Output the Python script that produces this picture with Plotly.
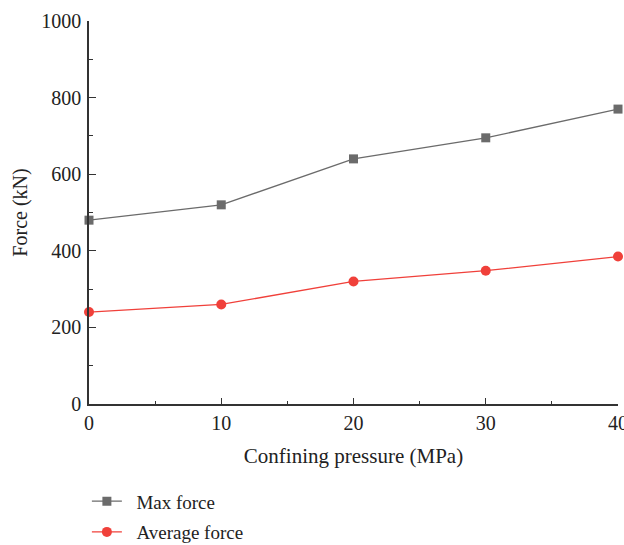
import plotly.graph_objects as go

# Confining pressure (MPa) and measured forces (kN)
pressure = [0, 10, 20, 30, 40]
max_force = [480, 520, 640, 695, 770]
avg_force = [240, 260, 320, 348, 385]

x_ticks = [0, 10, 20, 30, 40]
y_ticks = [0, 200, 400, 600, 800, 1000]

FONT = "Liberation Serif"
AXIS_COLOR = "#333333"
TEXT_COLOR = "#222222"
NBSP = "\u00a0"

fig = go.Figure()
fig.add_trace(go.Scatter(
    x=pressure, y=max_force, name=NBSP * 2 + "Max force", mode="lines+markers",
    legendgroup="max",
    line=dict(color="#6b6b6b", width=1.3),
    marker=dict(symbol="square", size=9, color="#6b6b6b"),
    cliponaxis=False,
))
fig.add_trace(go.Scatter(
    x=pressure, y=avg_force, name=NBSP * 2 + "Average force", mode="lines+markers",
    legendgroup="avg",
    line=dict(color="#f0403a", width=1.3),
    marker=dict(symbol="circle", size=10, color="#f0403a"),
    cliponaxis=False,
))

axis_common = dict(
    showline=True, linecolor=AXIS_COLOR, linewidth=1.5,
    ticks="inside", tickcolor=AXIS_COLOR, tickwidth=1.3,
    showgrid=False, zeroline=False,
    ticklabeloverflow="allow",
    tickfont=dict(family=FONT, size=20, color=TEXT_COLOR),
)

fig.update_xaxes(
    range=[0, 40], tickvals=x_ticks, ticklen=6,
    minor=dict(dtick=5, ticks="inside", ticklen=3, tickcolor=AXIS_COLOR, tickwidth=1.3),
    title_text="Confining pressure (MPa)", title_standoff=16,
    title_font=dict(family=FONT, size=21, color=TEXT_COLOR),
    **axis_common,
)
fig.update_yaxes(
    range=[0, 1000], tickvals=y_ticks, ticklen=7, ticklabelstandoff=2,
    minor=dict(dtick=100, ticks="inside", ticklen=4, tickcolor=AXIS_COLOR, tickwidth=1.3),
    title_text="Force (kN)", title_standoff=8,
    title_font=dict(family=FONT, size=20, color=TEXT_COLOR),
    **axis_common,
)

fig.update_layout(
    width=624, height=545,
    margin=dict(l=89, r=6, t=21, b=141, autoexpand=False),
    plot_bgcolor="white", paper_bgcolor="white",
    font=dict(family=FONT, size=20, color=TEXT_COLOR),
    legend=dict(
        x=-0.004, y=0.115, xref="paper", yref="container",
        xanchor="left", yanchor="top",
        font=dict(family=FONT, size=19, color=TEXT_COLOR),
        bgcolor="rgba(0,0,0,0)", tracegroupgap=3,
    ),
    showlegend=True,
)

fig.write_html("out.html")
